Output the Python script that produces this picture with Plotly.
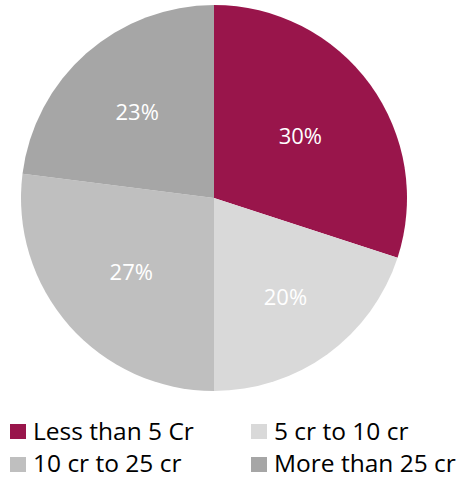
import plotly.graph_objects as go

labels = ["Less than 5 Cr", "5 cr to 10 cr", "10 cr to 25 cr", "More than 25 cr"]
values = [30, 20, 27, 23]
colors = ["#99154B", "#D9D9D9", "#BFBFBF", "#A6A6A6"]

W, H = 469, 481
FONT = "Open Sans"

fig = go.Figure()
fig.add_trace(go.Pie(
    labels=labels,
    values=values,
    sort=False,
    direction="clockwise",
    rotation=0,
    marker=dict(colors=colors, line=dict(width=0)),
    texttemplate="%{value}%",
    textposition="inside",
    insidetextorientation="horizontal",
    textfont=dict(family=FONT, size=22, color="white"),
    hoverinfo="label+percent",
    showlegend=False,
    domain=dict(x=[21 / W, 407 / W], y=[1 - 391 / H, 1 - 5 / H]),
))

# manual legend, two columns x two rows
col_x = [10, 251]
row_y = [431.5, 464.5]
text_y = [430.5, 462.5]
shapes = []
annotations = []
for i, (lab, col) in enumerate(zip(labels, colors)):
    cx = col_x[i % 2]
    cy = row_y[i // 2]
    ty = text_y[i // 2]
    shapes.append(dict(
        type="rect", xref="paper", yref="paper",
        x0=cx / W, x1=(cx + 16) / W,
        y0=1 - (cy - 7.5) / H, y1=1 - (cy + 7.5) / H,
        fillcolor=col, line=dict(width=0),
    ))
    annotations.append(dict(
        text=lab, xref="paper", yref="paper",
        x=(cx + 22) / W, y=1 - ty / H,
        xanchor="left", yanchor="middle", showarrow=False,
        borderpad=0,
        font=dict(family=FONT, size=24.5, color="black"),
    ))

fig.update_layout(
    width=W, height=H,
    margin=dict(l=0, r=0, t=0, b=0),
    paper_bgcolor="white",
    plot_bgcolor="white",
    shapes=shapes,
    annotations=annotations,
)

fig.write_html(
    "out.html",
    config={"displayModeBar": False},
    post_script="document.body.style.margin='0px';document.body.style.overflow='hidden';",
)
